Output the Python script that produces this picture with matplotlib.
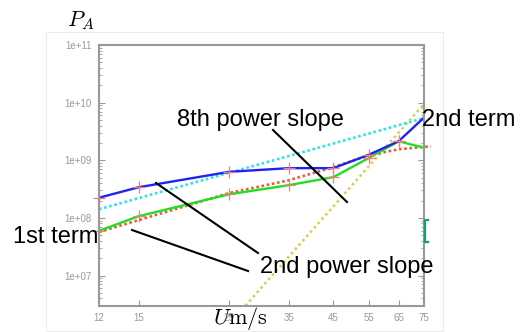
import numpy as np
import matplotlib
matplotlib.use("Agg")
import matplotlib.pyplot as plt
from matplotlib.lines import Line2D
from matplotlib.patches import Rectangle
from matplotlib.ticker import FixedLocator, NullFormatter, NullLocator

plt.rcParams['font.family'] = ['Liberation Sans', 'DejaVu Sans']
plt.rcParams['mathtext.fontset'] = 'cm'

# Datos (U en m/s, P_A)
U = [12, 15, 25, 35, 45, 55, 65, 75]
p_blue = [2.24e8, 3.4e8, 6.3e8, 7.3e8, 7.3e8, 1.25e9, 2.14e9, 5.5e9]
p_green = [5.96e7, 1.07e8, 2.57e8, 3.7e8, 5.1e8, 1.1e9, 2.14e9, 1.65e9]

# marcas "+" en los puntos medidos
U_marks = [12, 15, 25, 35, 45, 55, 65]
blue_marks = p_blue[:7]
green_marks = p_green[:7]

# termino 1 (rojo punteado)
U_red = [12, 25, 35, 45, 55, 65, 75, 78]
p_red = [5.7e7, 2.7e8, 4.5e8, 7.6e8, 1.22e9, 1.55e9, 1.71e9, 1.73e9]

# termino 2 (cian punteado)
U_cyan = [12, 75]
p_cyan = [1.41e8, 5.4e9]

# pendiente de potencia 8 (amarillo punteado)
U_yel = [27.4, 75.5]
p_yel = [3.0e6, 1.0e10]

xticks = [12, 15, 25, 35, 45, 55, 65, 75]
yticks = [1e7, 1e8, 1e9, 1e10, 1e11]
ytick_labels = ['1e+07', '1e+08', '1e+09', '1e+10', '1e+11']

W, H = 525, 332
fig = plt.figure(figsize=(W / 100, H / 100), dpi=100)


def fx(x):
    return x / W


def fy(y):
    return 1 - y / H


# marco claro de la imagen
fig.add_artist(Rectangle((fx(46), fy(331)), fx(443) - fx(46), fy(32) - fy(331),
                         transform=fig.transFigure, fill=False,
                         edgecolor='#ececec', lw=0.8))

ax = fig.add_axes([fx(99), fy(306), fx(424) - fx(99), fy(45) - fy(306)])
ax.set_xscale('log')
ax.set_yscale('log')
ax.set_xlim(12, 75)
ax.set_ylim(2.96e6, 1e11)

ax.plot(U_yel, p_yel, color='#d6cf45', lw=1.8, ls=(0, (1, 1.3)))
ax.plot(U_cyan, p_cyan, color='#2fe3ee', lw=1.9, ls=(0, (1, 1)))
ax.plot(U_red, p_red, color='#e0603a', lw=1.9, ls=(0, (1, 1)), clip_on=False)
ax.plot(U, p_green, color='#22dd22', lw=1.7)
ax.plot(U, p_blue, color='#2222ee', lw=1.7)
ax.plot(U_marks, blue_marks, ls='none', marker='+', ms=9, mew=0.9,
        color='#ff7777', clip_on=False)
ax.plot(U_marks, green_marks, ls='none', marker='+', ms=9, mew=0.9,
        color='#ff7777', clip_on=False)

ax.xaxis.set_major_locator(FixedLocator(xticks))
ax.set_xticklabels([str(v) for v in xticks])
ax.xaxis.set_minor_locator(NullLocator())
ax.xaxis.set_minor_formatter(NullFormatter())
ax.set_yticks(yticks)
ax.set_yticklabels(ytick_labels)
ax.yaxis.set_minor_formatter(NullFormatter())

for s in ax.spines.values():
    s.set_color('#999999')
    s.set_linewidth(1.5)
ax.tick_params(axis='both', which='both', direction='in', color='#999999',
               labelcolor='#999999', labelsize=7)
ax.tick_params(axis='y', which='both', right=True)
ax.tick_params(axis='y', which='major', length=4, pad=5)
ax.tick_params(axis='y', which='minor', length=2)
ax.tick_params(axis='x', which='major', length=4, pad=5)

# titulos en estilo matematico
fig.text(fx(67), fy(26), '$P_A$', fontsize=16, ha='left', va='baseline')
fig.text(fx(213), fy(324), r'$U\mathrm{m/s}$', fontsize=16, ha='left',
         va='baseline')

# anotaciones
fig.text(fx(177), fy(126), '8th power slope', fontsize=17, va='baseline')
fig.text(fx(422), fy(126), '2nd term', fontsize=17, va='baseline')
fig.text(fx(13), fy(243), '1st term', fontsize=17, va='baseline')
fig.text(fx(260), fy(273), '2nd power slope', fontsize=17, va='baseline')

for (x0, y0, x1, y1) in [(273, 130, 347, 202), (156, 183, 258, 253),
                         (132, 230, 248, 271)]:
    fig.add_artist(Line2D([fx(x0), fx(x1)], [fy(y0), fy(y1)],
                          transform=fig.transFigure, color='black', lw=1.5))

# pequeño corchete verde en el borde derecho
fig.add_artist(Line2D([fx(428), fx(425), fx(425), fx(428)],
                      [fy(220), fy(220), fy(242), fy(242)],
                      transform=fig.transFigure, color='#13a070', lw=1.6))

fig.savefig('out.png', dpi=100)
